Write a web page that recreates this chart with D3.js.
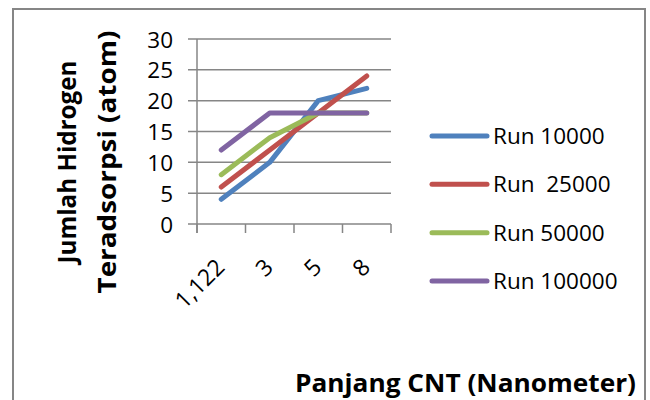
<!DOCTYPE html>
<html>
<head>
<meta charset="utf-8">
<script src="https://cdn.jsdelivr.net/npm/d3@7"></script>
<style>
  html, body { margin: 0; padding: 0; background: #fff; }
  svg { display: block; }
  text { font-family: "Open Sans", "DejaVu Sans", sans-serif; fill: #000; }
</style>
</head>
<body>
<svg id="chart" width="650" height="400"></svg>
<script>
// ---- data ----
const categories = ["1,122", "3", "5", "8"];
const seriesNames = ["Run 10000", "Run  25000", "Run 50000", "Run 100000"];
const run10000  = [4, 10, 20, 22];
const run25000  = [6, 12, 18, 24];
const run50000  = [8, 14, 18, 18];
const run100000 = [12, 18, 18, 18];
const seriesColors = ["#4F81BD", "#C0504D", "#9BBB59", "#8064A2"];
const yTicks = [0, 5, 10, 15, 20, 25, 30];
const xTitle = "Panjang CNT (Nanometer)";
const yTitleLines = ["Jumlah Hidrogen", "Teradsorpsi (atom)"];

const seriesValues = [run10000, run25000, run50000, run100000];

const svg = d3.select("#chart");
const gridColor = "#868686";

// outer frame
svg.append("rect")
  .attr("x", 13).attr("y", 9).attr("width", 632).attr("height", 420)
  .attr("fill", "none").attr("stroke", gridColor).attr("stroke-width", 2);

const plot = { left: 197, right: 391, top: 39, bottom: 224 };

const x = d3.scaleBand().domain(categories).range([plot.left, plot.right]).paddingInner(0).paddingOuter(0);
const y = d3.scaleLinear().domain([0, 30]).range([plot.bottom, plot.top]);

// y tick labels
const yAxis = d3.axisLeft(y).tickValues(yTicks).tickSize(0).tickPadding(24).tickFormat(d3.format("d"));
const gy = svg.append("g").attr("transform", `translate(${plot.left},0)`).call(yAxis);
gy.select(".domain").remove();
gy.selectAll("text").style("font-size", "22.5px").attr("dy", "0.36em");

// gridlines
svg.append("g").selectAll("line").data(yTicks).join("line")
  .attr("x1", plot.left - 9).attr("x2", plot.right)
  .attr("y1", d => y(d)).attr("y2", d => y(d))
  .attr("stroke", gridColor).attr("stroke-width", 1.5);

// y axis line
svg.append("line")
  .attr("x1", plot.left).attr("x2", plot.left)
  .attr("y1", plot.top).attr("y2", plot.bottom + 9)
  .attr("stroke", gridColor).attr("stroke-width", 1.5);

// x tick marks at band boundaries
const boundaries = categories.map(c => x(c)).concat([plot.right]);
svg.append("g").selectAll("line").data(boundaries).join("line")
  .attr("x1", d => d).attr("x2", d => d)
  .attr("y1", plot.bottom).attr("y2", plot.bottom + 9)
  .attr("stroke", gridColor).attr("stroke-width", 1.5);

// x labels rotated
const cx = c => x(c) + x.bandwidth() / 2;
svg.append("g").selectAll("text").data(categories).join("text")
  .attr("transform", c => `translate(${cx(c) - 1},${plot.bottom + 39}) rotate(-45)`)
  .attr("text-anchor", "end")
  .attr("dy", "0.35em")
  .style("font-size", "23px")
  .text(c => c);

// series lines
const line = d3.line().x((d, i) => cx(categories[i])).y(d => y(d));
svg.append("g").selectAll("path").data(seriesValues).join("path")
  .attr("d", d => line(d))
  .attr("fill", "none")
  .attr("stroke", (d, i) => seriesColors[i])
  .attr("stroke-width", 5)
  .attr("stroke-linecap", "round")
  .attr("stroke-linejoin", "round");

// legend
const legendY = d3.scalePoint().domain(seriesNames).range([136, 281]);
const lg = svg.append("g").selectAll("g").data(seriesNames).join("g")
  .attr("transform", d => `translate(0,${legendY(d)})`);
lg.append("line")
  .attr("x1", 432).attr("x2", 487).attr("y1", 0).attr("y2", 0)
  .attr("stroke", (d, i) => seriesColors[i]).attr("stroke-width", 5)
  .attr("stroke-linecap", "round");
lg.append("text")
  .attr("x", 493).attr("y", 0).attr("dy", "0.36em")
  .style("font-size", "22.5px")
  .style("white-space", "pre")
  .attr("xml:space", "preserve")
  .text(d => d);

// axis titles
svg.append("text")
  .attr("x", 295).attr("y", 392)
  .attr("textLength", 341).attr("lengthAdjust", "spacingAndGlyphs")
  .style("font-size", "25px").style("font-weight", "bold")
  .text(xTitle);

const yt = svg.append("g").attr("transform", "translate(0,162)");
const yLens = [203, 263];
yTitleLines.forEach((t, i) => {
  yt.append("text")
    .attr("transform", `translate(${[76, 116][i]},0) rotate(-90)`)
    .attr("text-anchor", "middle")
    .attr("textLength", yLens[i]).attr("lengthAdjust", "spacingAndGlyphs")
    .style("font-size", "25px").style("font-weight", "bold")
    .text(t);
});
</script>
</body>
</html>
